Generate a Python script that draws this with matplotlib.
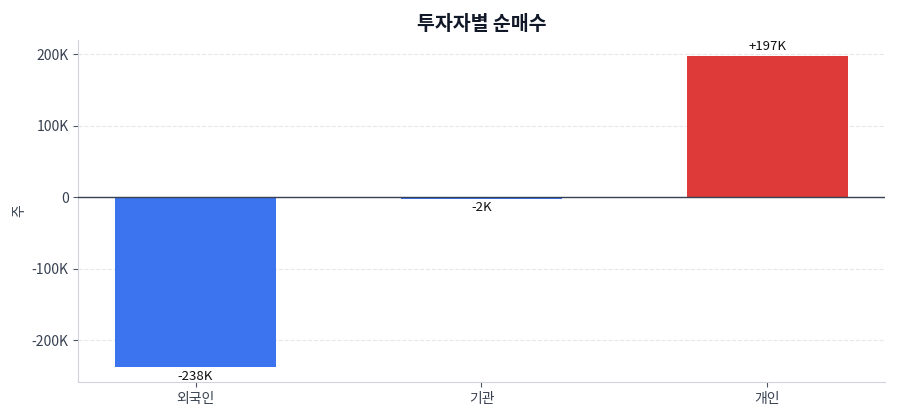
import numpy as np
import matplotlib
matplotlib.use("Agg")
import matplotlib.pyplot as plt
from matplotlib.ticker import FuncFormatter

plt.rcParams['font.family'] = ['Noto Sans CJK KR', 'DejaVu Sans']

# data (net buying by investor type, shares)
investors = ['외국인', '기관', '개인']
net_buy = [-238000, -2000, 197000]
labels = ['-238K', '-2K', '+197K']
colors = ['#3b74ee', '#3b74ee', '#df3a3a']

fig, ax = plt.subplots(figsize=(9, 4.2), dpi=100)
fig.subplots_adjust(left=0.087, right=0.983, top=0.905, bottom=0.09)

x = np.arange(len(investors))
bars = ax.bar(x, net_buy, width=0.56, color=colors, zorder=3)

for xi, v, lab in zip(x, net_buy, labels):
    if v >= 0:
        ax.text(xi, v + 4500, lab, ha='center', va='bottom', fontsize=9.5, color='#111111')
    else:
        ax.text(xi, v - 3500, lab, ha='center', va='top', fontsize=9.5, color='#111111')

ax.axhline(0, color='#374151', linewidth=1.0, zorder=4)
ax.set_xlim(-0.41, 2.41)
ax.set_ylim(-259000, 220000)
ax.set_yticks([-200000, -100000, 0, 100000, 200000])
ax.yaxis.set_major_formatter(FuncFormatter(lambda v, p: '0' if v == 0 else f'{int(v/1000)}K'))
ax.set_xticks(x)
ax.set_xticklabels(investors)

ax.grid(axis='y', linestyle='--', color='#e5e7eb', linewidth=0.8, zorder=0)
ax.set_axisbelow(True)
for s in ['top', 'right']:
    ax.spines[s].set_visible(False)
for s in ['left', 'bottom']:
    ax.spines[s].set_color('#d1d5db')
ax.tick_params(axis='both', colors='#4b5563', labelsize=10, labelcolor='#374151')

ax.set_ylabel('주', fontsize=10, color='#374151')
ax.set_title('투자자별 순매수', fontsize=14, fontweight='bold', color='#111827', pad=7)

plt.savefig('out.png', dpi=100)
